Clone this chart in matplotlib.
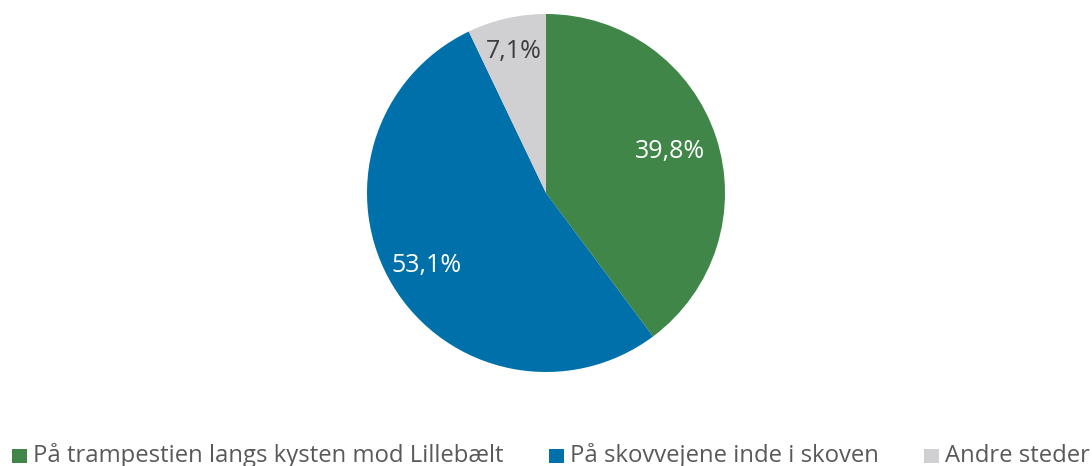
import numpy as np
import matplotlib
matplotlib.use("Agg")
import matplotlib.pyplot as plt
from matplotlib.patches import Rectangle

plt.rcParams['font.family'] = ['Open Sans', 'DejaVu Sans']

categories = ["På trampestien langs kysten mod Lillebælt",
              "På skovvejene inde i skoven",
              "Andre steder"]
values = [39.8, 53.1, 7.1]
colors = ["#3f8648", "#0070ab", "#d0cfd1"]
label_colors = ["white", "white", "#3d3d3d"]
label_dist = [0.73, 0.78, 0.81]

W, H = 1092, 466
fig = plt.figure(figsize=(W / 100, H / 100), dpi=100)
cx, cy, r = 546, 193, 179
ax = fig.add_axes([(cx - r) / W, (H - cy - r) / H, 2 * r / W, 2 * r / H])

wedges, _ = ax.pie(values, colors=colors, startangle=90, counterclock=False,
                   radius=1.0, wedgeprops=dict(linewidth=0))
ax.set_xlim(-1, 1)
ax.set_ylim(-1, 1)
ax.set_aspect("equal")
ax.axis("off")

for w, v, c, d in zip(wedges, values, label_colors, label_dist):
    ang = np.deg2rad((w.theta1 + w.theta2) / 2)
    ax.text(d * np.cos(ang), d * np.sin(ang), f"{v:.1f}%".replace(".", ","),
            ha="center", va="center", color=c, fontsize=18)

# legend row drawn in pixel coordinates along the bottom
marker_x = [12, 549, 924]
box = 14.5
for mx, c, lab in zip(marker_x, colors, categories):
    fig.add_artist(Rectangle((mx / W, (H - 463) / H), box / W, box / H,
                             transform=fig.transFigure, facecolor=c, edgecolor="none"))
    fig.text((mx + 21) / W, (H - 462) / H, lab, ha="left", va="baseline",
             fontsize=17.2, color="#595959")

fig.savefig("out.png", dpi=100)
